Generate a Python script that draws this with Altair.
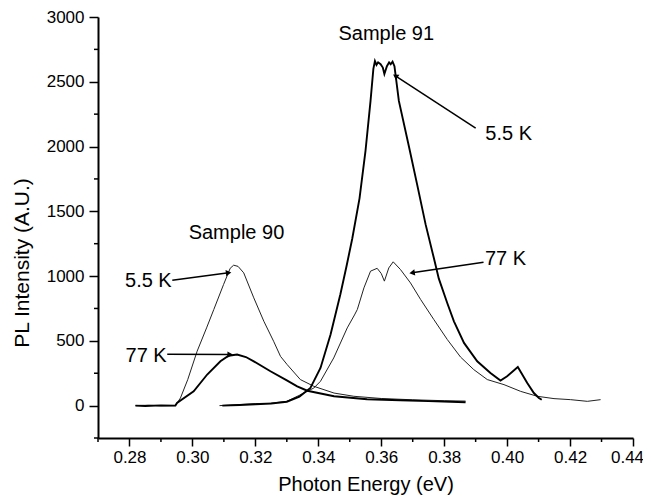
import math
import altair as alt
import pandas as pd

# ---------------- data ----------------
s90_55_x = [0.2819, 0.2860, 0.2900, 0.2946, 0.2962, 0.2985, 0.3015, 0.3045, 0.3068, 0.3099, 0.3120,
            0.3131, 0.3145, 0.3163, 0.3195, 0.3227, 0.3258, 0.3280, 0.3301, 0.3343, 0.3386, 0.3450,
            0.3513, 0.3600, 0.3700, 0.3800, 0.3868]
s90_55_y = [0, 3, -2, 0, 59, 200, 420, 600, 742, 935, 1060,
            1084, 1075, 1025, 832, 651, 497, 380, 317, 201, 149, 97,
            72, 55, 45, 38, 35]

s90_77_x = [0.2819, 0.2850, 0.2900, 0.2946, 0.2951, 0.3004, 0.3047, 0.3089, 0.3115, 0.3142, 0.3170,
            0.3195, 0.3248, 0.3300, 0.3333, 0.3365, 0.3450, 0.3555, 0.3660, 0.3750, 0.3868]
s90_77_y = [0, -3, 2, 0, 20, 110, 240, 342, 385, 394, 375,
            342, 265, 195, 149, 115, 72, 49, 41, 35, 26]

s91_55_x = [0.3095, 0.3150, 0.3200, 0.3250, 0.3300, 0.3340, 0.3375, 0.3407, 0.3439, 0.3470, 0.3490,
            0.3508, 0.3531, 0.3550, 0.3566, 0.3575, 0.3580, 0.3585, 0.3590, 0.3598, 0.3605, 0.3610,
            0.3618, 0.3625, 0.3630, 0.3636, 0.3642, 0.3656, 0.3688, 0.3714, 0.3741, 0.3767, 0.3783,
            0.3810, 0.3831, 0.3863, 0.3905, 0.3947, 0.3979, 0.4000, 0.4034, 0.4064, 0.4085, 0.4101,
            0.4110]
s91_55_y = [0, 5, 10, 15, 30, 70, 136, 291, 549, 858, 1080,
            1290, 1600, 1966, 2352, 2600, 2660, 2630, 2650, 2635, 2610, 2560,
            2620, 2650, 2635, 2655, 2620, 2352, 2000, 1708, 1399, 1141, 980,
            790, 651, 484, 342, 252, 193, 226, 298, 175, 97, 59,
            45]

s91_77_x = [0.3086, 0.3150, 0.3200, 0.3250, 0.3300, 0.3340, 0.3386, 0.3407, 0.3449, 0.3492, 0.3515,
            0.3524, 0.3545, 0.3566, 0.3587, 0.3600, 0.3610, 0.3624, 0.3638, 0.3661, 0.3693, 0.3725,
            0.3767, 0.3810, 0.3852, 0.3894, 0.3937, 0.3990, 0.4043, 0.4096, 0.4149, 0.4202, 0.4255,
            0.4297]
s91_77_y = [0, 8, 15, 20, 33, 80, 136, 188, 368, 600, 700,
            742, 909, 1038, 1060, 1020, 961, 1063, 1110, 1051, 947, 820,
            665, 510, 375, 278, 201, 162, 110, 72, 54, 46, 33,
            46]

# annotations
label_text = ["Sample 91", "5.5 K", "Sample 90", "5.5 K", "77 K", "77 K"]
label_x = [0.3616, 0.4005, 0.3140, 0.2860, 0.2853, 0.3995]
label_y = [2869, 2095, 1334, 960, 381, 1128]

arrow_x0 = [0.3900, 0.2936, 0.2920, 0.3925]
arrow_y0 = [2142, 968, 397, 1107]
arrow_x1 = [0.3645, 0.3115, 0.3120, 0.3698]
arrow_y1 = [2545, 1025, 394, 1025]

x_major = [0.28, 0.30, 0.32, 0.34, 0.36, 0.38, 0.40, 0.42, 0.44]
x_minor = [0.27, 0.29, 0.31, 0.33, 0.35, 0.37, 0.39, 0.41, 0.43]
y_major = [0, 500, 1000, 1500, 2000, 2500, 3000]
y_minor = [-250, 250, 750, 1250, 1750, 2250, 2750]

X_DOM = [0.27, 0.44]
Y_DOM = [-250, 3000]
W, H = 535, 421
FONT = "Liberation Sans"

# ---------------- tables ----------------
frames = []
for name, xs_, ys_ in [("s90_55", s90_55_x, s90_55_y), ("s90_77", s90_77_x, s90_77_y),
                       ("s91_55", s91_55_x, s91_55_y), ("s91_77", s91_77_x, s91_77_y)]:
    frames.append(pd.DataFrame({"e": xs_, "v": ys_, "series": name, "order": range(len(xs_))}))
curves = pd.concat(frames, ignore_index=True)

labels = pd.DataFrame({"t": label_text, "x": label_x, "y": label_y})

kx = W / (X_DOM[1] - X_DOM[0])
ky = H / (Y_DOM[1] - Y_DOM[0])
angles = []
for a, b, c, d in zip(arrow_x0, arrow_y0, arrow_x1, arrow_y1):
    dx = (c - a) * kx
    dy = -(d - b) * ky
    angles.append(math.degrees(math.atan2(dx, -dy)) % 360)
arrows = pd.DataFrame({"x0": arrow_x0, "y0": arrow_y0, "x1": arrow_x1, "y1": arrow_y1, "ang": angles})

xs = alt.Scale(domain=X_DOM, nice=False, zero=False)
ys = alt.Scale(domain=Y_DOM, nice=False, zero=False)

x_axis = alt.Axis(values=x_major, format=".2f", title="Photon Energy (eV)",
                  titleY=52, titleBaseline="alphabetic", titleFontSize=20,
                  tickSize=8, labelPadding=3, labelFlush=False,
                  labelOffset={"expr": "datum.value >= 0.439 ? -6 : 0"})
y_axis = alt.Axis(values=y_major, format="d", title="PL Intensity (A.U.)",
                  titleX=-66, titleY=H / 2 + 35, titleFontSize=21,
                  tickSize=9, labelPadding=5, labelFlush=False)

base = alt.Chart(curves)
thin = base.mark_line(color="#222222", strokeWidth=1.0).encode(
    x=alt.X("e:Q", scale=xs, axis=x_axis),
    y=alt.Y("v:Q", scale=ys, axis=y_axis),
    detail="series:N",
    order="order:Q",
).transform_filter(alt.FieldOneOfPredicate(field="series", oneOf=["s90_55", "s91_77"]))

thick = base.mark_line(color="black", strokeWidth=1.9).encode(
    x=alt.X("e:Q", scale=xs),
    y=alt.Y("v:Q", scale=ys),
    detail="series:N",
    order="order:Q",
).transform_filter(alt.FieldOneOfPredicate(field="series", oneOf=["s90_77", "s91_55"]))

text = alt.Chart(labels).mark_text(font=FONT, fontSize=20, color="black").encode(
    x=alt.X("x:Q", scale=xs), y=alt.Y("y:Q", scale=ys), text="t:N")

rules = alt.Chart(arrows).mark_rule(color="black", strokeWidth=1.5).encode(
    x=alt.X("x0:Q", scale=xs), y=alt.Y("y0:Q", scale=ys), x2="x1:Q", y2="y1:Q")

heads = alt.Chart(arrows).mark_point(shape="triangle-up", filled=True, color="black", size=40, opacity=1).encode(
    x=alt.X("x1:Q", scale=xs), y=alt.Y("y1:Q", scale=ys), angle=alt.Angle("ang:Q", scale=None))

xminor = alt.Chart(pd.DataFrame({"m": x_minor})).mark_rule(color="black", strokeWidth=1.5).encode(
    x=alt.X("m:Q", scale=xs), y=alt.value(H), y2=alt.value(H + 4))
yminor = alt.Chart(pd.DataFrame({"m": y_minor})).mark_rule(color="black", strokeWidth=1.5).encode(
    y=alt.Y("m:Q", scale=ys), x=alt.value(0), x2=alt.value(-4))

chart = alt.layer(thin, thick, rules, heads, text, xminor, yminor).properties(
    width=W, height=H,
    autosize=alt.AutoSizeParams(type="none"),
    padding={"left": 90, "top": 9, "right": 10, "bottom": 58},
    background="white",
).configure_view(stroke=None).configure_axis(
    grid=False,
    domainColor="black", domainWidth=2,
    tickColor="black", tickWidth=1.5,
    labelFont=FONT, labelFontSize=17, labelColor="black",
    titleFont=FONT, titleFontWeight="normal", titleColor="black",
)

chart.save("out.html", embed_options={"renderer": "svg", "actions": False})
